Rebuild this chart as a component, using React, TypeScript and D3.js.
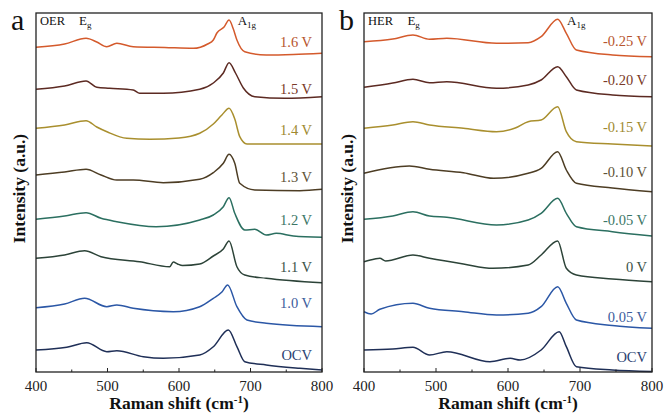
import React, { useEffect, useRef } from "react";
import * as d3 from "d3";

type Pt = [number, number];

// Raman shift (cm-1) vs stacked intensity (a.u.)
const oer16: Pt[] = [[400, 324.7], [440, 328], [470, 333.7], [485, 330], [499, 325.3], [513, 328.7], [536, 325.3], [580, 324.5], [620, 323.7], [640, 328], [648, 332], [653, 339], [663, 345], [670, 352], [676, 343], [681, 332], [692, 320.3], [722, 317], [760, 317.5], [800, 318.7]];
const oer15: Pt[] = [[400, 282.7], [440, 286], [470, 291], [485, 284.7], [503, 283.7], [536, 282], [545, 278.7], [578, 278.7], [629, 282.7], [648, 289], [662, 299], [670, 309.3], [679, 299], [690, 284], [706, 275.3], [748, 273.7], [800, 275.3]];
const oer14: Pt[] = [[400, 243.7], [440, 247], [470, 251.3], [485, 245], [500, 240], [527, 233.7], [559, 232.7], [600, 234], [629, 238.7], [648, 248], [660, 257], [670, 263.7], [678, 253], [685, 235.3], [695, 228], [740, 228], [800, 228]];
const oer13: Pt[] = [[400, 197], [440, 200], [470, 202.7], [491, 197], [513, 192], [536, 192], [578, 189.3], [629, 192.7], [648, 199.3], [662, 208.7], [670, 217.7], [678, 208.7], [685, 188.7], [706, 182], [769, 181.3], [800, 182.7]];
const oer12: Pt[] = [[400, 152.7], [440, 156], [470, 159.3], [491, 153.7], [513, 150.3], [568, 145.3], [629, 152], [648, 157], [662, 165.3], [670, 174.3], [678, 158.7], [692, 142], [706, 142.7], [722, 137], [736, 138.7], [760, 136], [800, 134.7]];
const oer11: Pt[] = [[400, 113.7], [440, 117], [468, 121.3], [491, 115.3], [545, 110.3], [587, 105.3], [592, 110], [598, 108], [605, 106.5], [629, 108], [648, 116], [662, 123], [670, 131], [681, 105.3], [692, 97], [722, 93.7], [800, 89.3]];
const oer10: Pt[] = [[400, 64.3], [440, 68], [468, 73.7], [499, 65.3], [513, 67], [536, 63.7], [592, 60.3], [629, 65.3], [648, 73.7], [660, 80], [668, 87], [681, 65.3], [695, 52], [722, 48.7], [800, 45.3]];
const oerOcv: Pt[] = [[400, 22], [443, 24.7], [471, 29.3], [499, 20.3], [513, 21.3], [550, 15.3], [578, 13.7], [629, 17], [648, 25.3], [669, 42], [681, 25.3], [692, 10.3], [722, 7], [769, 3.7], [800, 2]];

const her025: Pt[] = [[400, 330.3], [440, 333], [468, 337], [491, 332.7], [515, 333.7], [584, 328.7], [628, 329.3], [646, 335.3], [669, 352.7], [681, 338.7], [695, 322], [745, 317], [800, 315.3]];
const her020: Pt[] = [[400, 284.7], [440, 289], [468, 292.7], [491, 289.3], [515, 290.3], [584, 283.7], [628, 287], [646, 292], [669, 305.3], [681, 295.3], [695, 282], [745, 277], [800, 275.3]];
const her015: Pt[] = [[400, 243.7], [440, 247], [468, 250.3], [491, 247], [538, 243.7], [584, 240.3], [610, 244], [628, 250.3], [646, 252], [669, 265.3], [681, 240.3], [695, 230.3], [745, 228], [800, 226]];
const her010: Pt[] = [[400, 198.7], [463, 206], [491, 202.7], [538, 199.3], [580, 193.7], [628, 198.7], [646, 203.7], [669, 220.3], [681, 202], [695, 188.7], [745, 184], [800, 180.3]];
const her005: Pt[] = [[400, 152.7], [440, 156], [468, 160.3], [491, 156], [515, 154.7], [584, 147], [628, 152], [646, 158.7], [669, 173.7], [681, 158.7], [695, 145.3], [745, 140.3], [800, 136]];
const her0: Pt[] = [[400, 110.3], [415, 113], [422, 113.7], [430, 111], [468, 117], [491, 113.7], [538, 108], [579, 103.7], [628, 107], [646, 117], [669, 131], [681, 103.7], [695, 97], [745, 93], [800, 90.3]];
const herP005: Pt[] = [[400, 60.3], [410, 58], [422, 62.7], [468, 68.7], [491, 63.7], [538, 60.3], [584, 57], [628, 58.7], [646, 65.3], [669, 85.3], [681, 68.7], [695, 52], [745, 46.5], [800, 43.7]];
const herOcv: Pt[] = [[400, 22], [440, 23], [468, 24.7], [491, 17], [515, 20.3], [575, 10.3], [603, 13.7], [617, 12], [646, 22], [671, 40.3], [681, 25.3], [695, 5.3], [745, 2], [800, 0.5]];

const oerLabels = ["1.6 V", "1.5 V", "1.4 V", "1.3 V", "1.2 V", "1.1 V", "1.0 V", "OCV"];
const herLabels = ["-0.25 V", "-0.20 V", "-0.15 V", "-0.10 V", "-0.05 V", "0 V", "0.05 V", "OCV"];
// intensity value where each label's baseline sits
const oerLabelY = [325, 278, 237, 190, 147, 100, 64, 12];
const herLabelY = [326, 287, 240, 195, 147, 100, 50, 10];

const lineColors = ["#d45a2c", "#5c2a22", "#a98f2e", "#4d3d24", "#2b6f60", "#2c4338", "#2b57a6", "#1f2f57"];
const labelColors = ["#b7552e", "#7a3a28", "#a08a30", "#5e5236", "#3b7666", "#3b5248", "#3c5c9c", "#2b4272"];
const xTicks = [400, 500, 600, 700, 800];
const xMinor = [450, 550, 650, 750];

const serif = "Liberation Serif, Times New Roman, Times, DejaVu Serif, serif";

type PanelCfg = {
  left: number;
  right: number;
  letter: string;
  tag: string;
  series: Pt[][];
  labels: string[];
  labelY: number[];
  labelX: number;
};

const panels: PanelCfg[] = [
  { left: 36, right: 322, letter: "a", tag: "OER", series: [oer16, oer15, oer14, oer13, oer12, oer11, oer10, oerOcv], labels: oerLabels, labelY: oerLabelY, labelX: 312 },
  { left: 364, right: 652, letter: "b", tag: "HER", series: [her025, her020, her015, her010, her005, her0, herP005, herOcv], labels: herLabels, labelY: herLabelY, labelX: 647 },
];

const App = () => {
  const ref = useRef<SVGSVGElement>(null);

  useEffect(() => {
    const svg = d3.select(ref.current);
    svg.selectAll("*").remove();
    const top = 13, bottom = 372;

    panels.forEach((p) => {
      const x = d3.scaleLinear().domain([400, 800]).range([p.left, p.right]);
      const y = d3.scaleLinear().domain([0, 359]).range([bottom, top]);
      const g = svg.append("g").style("font-family", serif);

      const line = d3
        .line<Pt>()
        .x((d) => x(d[0]))
        .y((d) => y(d[1]))
        .curve(d3.curveMonotoneX);

      p.series.forEach((s, i) => {
        g.append("path")
          .datum(s)
          .attr("fill", "none")
          .attr("stroke", lineColors[i])
          .attr("stroke-width", 1.5)
          .attr("d", line);
        g.append("text")
          .attr("x", p.labelX)
          .attr("y", y(p.labelY[i]))
          .attr("text-anchor", "end")
          .style("font-size", "14.5px")
          .attr("fill", labelColors[i])
          .text(p.labels[i]);
      });

      // frame
      g.append("rect")
        .attr("x", p.left)
        .attr("y", top)
        .attr("width", p.right - p.left)
        .attr("height", bottom - top)
        .attr("fill", "none")
        .attr("stroke", "#222")
        .attr("stroke-width", 1.3);

      // x axis ticks pointing inward
      xTicks.forEach((t) => {
        g.append("line")
          .attr("x1", x(t)).attr("x2", x(t))
          .attr("y1", bottom).attr("y2", bottom - 4)
          .attr("stroke", "#222");
        g.append("text")
          .attr("x", x(t))
          .attr("y", 391)
          .attr("text-anchor", "middle")
          .style("font-size", "15px")
          .attr("fill", "#222")
          .text(t);
      });
      xMinor.forEach((t) => {
        g.append("line")
          .attr("x1", x(t)).attr("x2", x(t))
          .attr("y1", bottom).attr("y2", bottom - 2.5)
          .attr("stroke", "#222");
      });

      const xt = g.append("text")
        .attr("x", (p.left + p.right) / 2)
        .attr("y", 409)
        .attr("text-anchor", "middle")
        .style("font-weight", "bold")
        .style("font-size", "17.5px")
        .attr("fill", "#111");
      xt.append("tspan").text("Raman shift (cm");
      xt.append("tspan").attr("dy", -6).style("font-size", "11px").text("-1");
      xt.append("tspan").attr("dy", 6).text(")");

      g.append("text")
        .attr("transform", `translate(${p.left - 11},${(top + bottom) / 2 - 4}) rotate(-90)`)
        .attr("text-anchor", "middle")
        .style("font-weight", "bold")
        .style("font-size", "17.5px")
        .attr("fill", "#111")
        .text("Intensity (a.u.)");

      g.append("text")
        .attr("x", p.left - 25)
        .attr("y", 30)
        .style("font-size", "30px")
        .attr("fill", "#111")
        .text(p.letter);

      g.append("text")
        .attr("x", p.left + 4)
        .attr("y", 25)
        .style("font-size", "12.5px")
        .attr("fill", "#111")
        .text(p.tag);

      const eg = g.append("text")
        .attr("x", x(470) - 7)
        .attr("y", 25)
        .style("font-size", "13px")
        .attr("fill", "#111");
      eg.append("tspan").text("E");
      eg.append("tspan").attr("dy", 3).style("font-size", "9px").text("g");

      const a1 = g.append("text")
        .attr("x", x(682))
        .attr("y", 25)
        .style("font-size", "13px")
        .attr("fill", "#111");
      a1.append("tspan").text("A");
      a1.append("tspan").attr("dy", 3).style("font-size", "9px").text("1g");
    });
  }, []);

  return (
    <div style={{ position: "absolute", left: 0, top: 0, background: "#fff" }}>
      <svg ref={ref} width={664} height={413} />
    </div>
  );
};

export default App;
